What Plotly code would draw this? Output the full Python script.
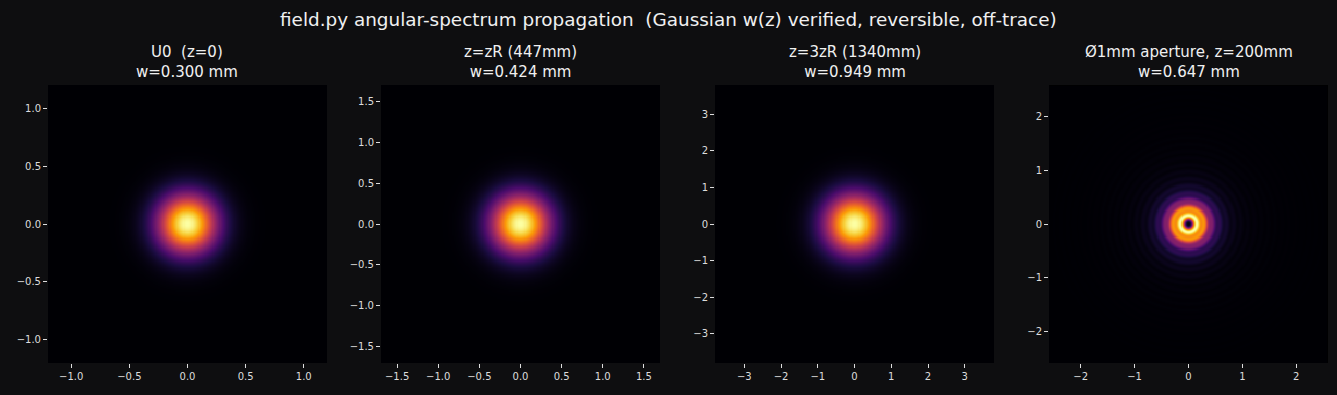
import numpy as np
import plotly.graph_objects as go

# ---- data / parameters ----
titles = ["U0  (z=0)<br>w=0.300 mm", "z=zR (447mm)<br>w=0.424 mm",
          "z=3zR (1340mm)<br>w=0.949 mm", "Ø1mm aperture, z=200mm<br>w=0.647 mm"]
beam_w = [0.300, 0.424, 0.949, 0.647]          # mm, beam radius per panel
half_extent = [1.2, 1.696, 3.796, 2.588]        # mm, axis half-range per panel (4 w)
tick_vals = [[-1.0, -0.5, 0.0, 0.5, 1.0],
             [-1.5, -1.0, -0.5, 0.0, 0.5, 1.0, 1.5],
             [-3, -2, -1, 0, 1, 2, 3],
             [-2, -1, 0, 1, 2]]
tick_text = [["\u22121.0", "\u22120.5", "0.0", "0.5", "1.0"],
             ["\u22121.5", "\u22121.0", "\u22120.5", "0.0", "0.5", "1.0", "1.5"],
             ["\u22123", "\u22122", "\u22121", "0", "1", "2", "3"],
             ["\u22122", "\u22121", "0", "1", "2"]]
wavelength = 633e-6     # mm
aperture_d = 1.0        # mm
aperture_edge = 0.012   # mm, softness of the aperture rim
z_ap = 200.0            # mm
display_gamma = 0.7     # colour stretch of normalised intensity
main_title = "field.py angular-spectrum propagation  (Gaussian w(z) verified, reversible, off-trace)"

# ---- fields ----
def gaussian_panel(w, L, n=241):
    x = np.linspace(-L, L, n)
    X, Y = np.meshgrid(x, x)
    return x, np.exp(-2 * (X**2 + Y**2) / w**2)

def aperture_panel(L):
    N = 1024
    big = 2 * L
    x = np.linspace(-big, big, N, endpoint=False)
    dx = x[1] - x[0]
    X, Y = np.meshgrid(x, x)
    R = np.sqrt(X**2 + Y**2)
    U = (0.5 * (1 - np.tanh((R - aperture_d / 2) / aperture_edge))).astype(complex)
    fx = np.fft.fftfreq(N, d=dx)
    FX, FY = np.meshgrid(fx, fx)
    arg = 1 - (wavelength * FX) ** 2 - (wavelength * FY) ** 2
    kz = 2 * np.pi / wavelength * np.sqrt(np.maximum(arg, 0))
    H = np.exp(1j * kz * z_ap) * (arg > 0)
    Uz = np.fft.ifft2(np.fft.fft2(U) * H)
    I = np.abs(Uz) ** 2
    s = slice(N // 4, 3 * N // 4, 2)
    xs = x[s]
    I = I[s, s]
    return xs, I / I.max()

fig = go.Figure()
x_dom = [(48, 327), (381, 660), (715, 994), (1049, 1328)]
W, Hh = 1337, 395
y0, y1 = (Hh - 363) / Hh, (Hh - 85) / Hh

for i in range(4):
    if i < 3:
        x, I = gaussian_panel(beam_w[i], half_extent[i])
    else:
        x, I = aperture_panel(half_extent[i])
    ax = "" if i == 0 else str(i + 1)
    fig.add_trace(go.Heatmap(x=x, y=x, z=I ** display_gamma, colorscale="Inferno",
                             zmin=0, zmax=1, showscale=False, hoverinfo="skip",
                             xaxis="x" + ax, yaxis="y" + ax))
    common = dict(showgrid=False, zeroline=False, ticks="outside", ticklen=4,
                  tickcolor="#dddddd", tickfont=dict(size=10, color="#dddddd",
                                                     family="DejaVu Sans"),
                  showline=False, range=[-half_extent[i], half_extent[i]],
                  tickmode="array", tickvals=tick_vals[i], ticktext=tick_text[i])
    fig.layout["xaxis" + ax] = dict(domain=[x_dom[i][0] / W, x_dom[i][1] / W],
                                    anchor="y" + ax, **common)
    fig.layout["yaxis" + ax] = dict(domain=[y0, y1], anchor="x" + ax, **common)
    fig.add_annotation(x=(x_dom[i][0] + x_dom[i][1]) / 2 / W, y=(Hh - 62) / Hh,
                       xref="paper", yref="paper", text=titles[i], showarrow=False,
                       xanchor="center", yanchor="middle",
                       font=dict(size=15, color="#f0f0f0", family="DejaVu Sans"))

fig.add_annotation(x=0.5, y=(Hh - 19) / Hh, xref="paper", yref="paper",
                   text=main_title, showarrow=False, xanchor="center", yanchor="middle",
                   font=dict(size=18.4, color="#f0f0f0", family="DejaVu Sans"))

fig.update_layout(width=W, height=Hh, margin=dict(l=0, r=0, t=0, b=0),
                  paper_bgcolor="#0e0e10", plot_bgcolor="#000000", showlegend=False)
fig.write_html("out.html")
